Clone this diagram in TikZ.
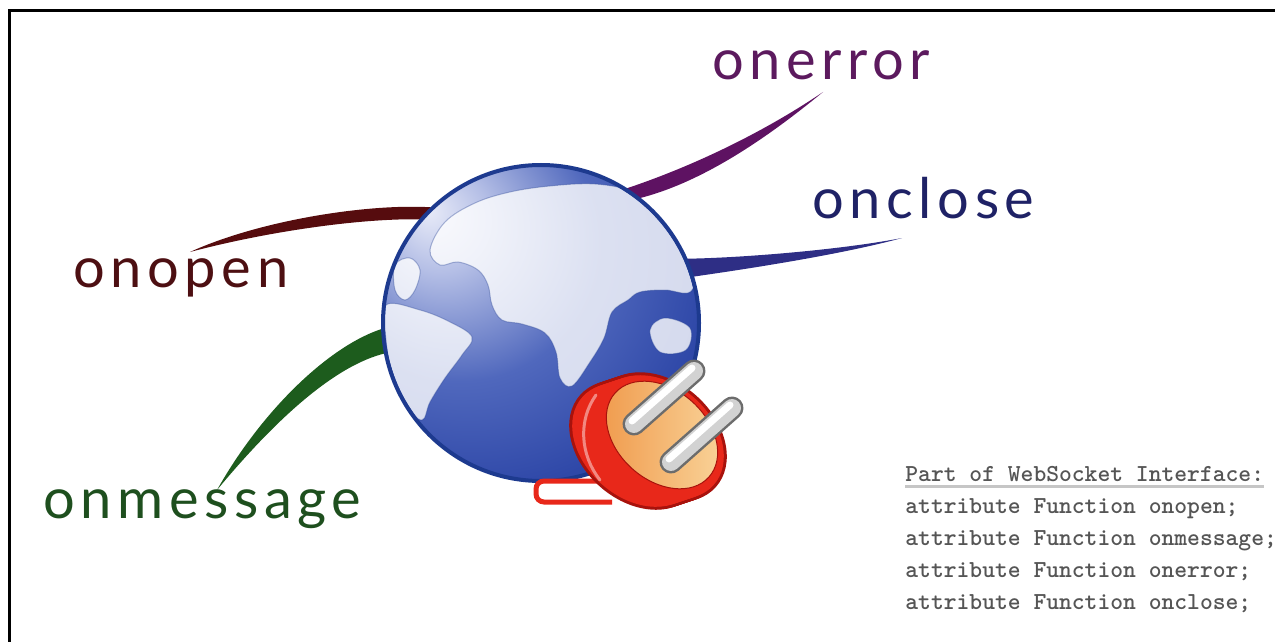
\documentclass[tikz,border=0pt]{standalone}
\usepackage{fontspec}
\usepackage{xcolor}
\usetikzlibrary{calc}

\newfontfamily\evfont[LetterSpace=10]{Lato}

\definecolor{opencol}{HTML}{4D0F12}
\definecolor{msgcol}{HTML}{1E4F1E}
\definecolor{errcol}{HTML}{5C1A5E}
\definecolor{closecol}{HTML}{1F2266}
\definecolor{openline}{HTML}{560C0E}
\definecolor{msgline}{HTML}{1D5C1D}
\definecolor{errline}{HTML}{5E1262}
\definecolor{closeline}{HTML}{2E2E85}
\definecolor{globehi}{HTML}{E8EBF8}
\definecolor{globelite}{HTML}{B5BFE6}
\definecolor{globemid}{HTML}{5068BD}
\definecolor{globedeep}{HTML}{2F48A8}
\definecolor{globedark}{HTML}{22389A}
\definecolor{globeline}{HTML}{1D3A8F}
\definecolor{plugred}{HTML}{E8281A}
\definecolor{plugedge}{HTML}{A8120C}
\definecolor{faceorange}{HTML}{F09A4C}
\definecolor{facepeach}{HTML}{F9D49A}
\definecolor{codegray}{HTML}{555555}

\pgfdeclareradialshading{globeshade}{\pgfpoint{-18bp}{18bp}}{%
  color(0bp)=(globehi); color(8bp)=(globelite); color(22bp)=(globemid);
  color(36bp)=(globedeep); color(76bp)=(globedark)}

\tikzset{
  evlabel/.style={font=\evfont\fontsize{28}{32}\selectfont, inner sep=0pt, anchor=base west},
  code/.style={font=\ttfamily\bfseries\fontsize{12.2}{16}\selectfont, text=codegray, inner sep=0pt, anchor=base west},
  land/.style={fill=white, fill opacity=0.8, draw=globeline, draw opacity=0.35, line width=0.5pt},
  prongout/.style={line width=11.5pt, line cap=round, draw=gray!85!black},
  prongin/.style={line width=9pt, line cap=round, draw=gray!35},
  pronghi/.style={line width=3.5pt, line cap=round, draw=white}
}

\begin{document}
\begin{tikzpicture}[x=0.5pt, y=-0.5pt]
\useasboundingbox (0,0) rectangle (1275,642);

% frame
\draw[line width=1.5pt] (9,642) -- (9,11) -- (1275,11);

% globe (placed first, drawn later)
\node[circle, minimum size=158pt, inner sep=0pt, outer sep=0pt] (globe) at (541,323) {};

% event labels
\node[evlabel, text=errcol] (onerror) at (712,80) {onerror};
\node[evlabel, text=closecol] (onclose) at (812,219) {onclose};
\node[evlabel, text=opencol] (onopen) at (73,287) {onopen};
\node[evlabel, text=msgcol] (onmessage) at (43,518) {onmessage};

% swoosh tips
\coordinate (errtip) at (823,92);
\coordinate (closetip) at (902,238);
\coordinate (opentip) at (190,252);
\coordinate (msgtip) at (217,490);

% swooshes
\fill[errline] (globe.58) .. controls (700,164) and (770,128) .. (errtip)
  .. controls (772,134) and (705,182) .. (globe.52) -- cycle;
\fill[closeline] (globe.24) .. controls (740,258) and (840,250) .. (closetip)
  .. controls (840,255) and (740,270) .. (globe.17) -- cycle;
\fill[openline] (globe.133) .. controls (370,203) and (260,220) .. (opentip)
  .. controls (265,232) and (360,218) .. (globe.139) -- cycle;
\fill[msgline] (globe.182) .. controls (330,345) and (262,410) .. (msgtip)
  .. controls (275,420) and (335,365) .. (globe.191) -- cycle;

% globe ball
\shade[shading=globeshade] (globe.center) circle[radius=158];
\begin{scope}
\clip (globe.center) circle[radius=156];
% europe, asia and africa
\filldraw[land] plot[smooth cycle, tension=0.6] coordinates {
  (430,250) (445,222) (475,203) (510,192) (550,186) (595,184) (635,192)
  (668,212) (690,240) (697,268) (690,292) (665,290) (640,292) (628,300)
  (612,312) (604,338) (590,362) (572,386) (560,378) (556,352) (545,333)
  (522,324) (502,320) (492,305) (488,285) (478,270) (458,262) (440,265)};
% south america
\filldraw[land] plot[smooth cycle, tension=0.6] coordinates {
  (386,305) (420,310) (450,322) (472,337) (462,355) (445,378) (430,402)
  (422,420) (405,405) (392,375) (386,340)};
% north america
\filldraw[land] plot[smooth cycle, tension=0.6] coordinates {
  (395,265) (410,258) (420,270) (415,290) (405,300) (395,290)};
% islands
\filldraw[land] plot[smooth cycle, tension=0.6] coordinates {
  (650,330) (665,318) (690,328) (686,350) (660,352)};
\end{scope}
\draw[globeline, line width=2pt] (globe.center) circle[radius=158];

% plug
\coordinate (plug) at (660,437);
\draw[plugred, line width=2.5pt, rounded corners=4pt] (605,481) -- (536,481) -- (536,502) -- (612,502);
\foreach \k in {0,...,12}{
  \begin{scope}[shift={($(plug)+(-2*\k,0.67*\k)$)}, rotate=-42]
    \fill[plugedge] (0,0) ellipse [x radius=75, y radius=55];
  \end{scope}}
\foreach \k in {0,...,12}{
  \begin{scope}[shift={($(plug)+(-2*\k,0.67*\k)$)}, rotate=-42]
    \fill[plugred] (0,0) ellipse [x radius=72, y radius=52];
  \end{scope}}
% shine on the rim
\draw[white, opacity=0.45, line width=1.5pt, line cap=round]
  (596,395) .. controls (578,420) and (580,455) .. (600,480);
\begin{scope}[shift={($(plug)+(2,-2)$)}, rotate=-42]
  \shade[left color=faceorange, right color=facepeach, draw=plugedge, line width=0.5pt]
    (0,0) ellipse [x radius=63, y radius=45];
\end{scope}

% prongs
\coordinate (pa1) at (634,424);
\coordinate (pa2) at (694,371);
\coordinate (pb1) at (671,462);
\coordinate (pb2) at (732,408);
\draw[prongout] (pa1) -- (pa2);
\draw[prongin] (pa1) -- (pa2);
\draw[pronghi] ([shift={(-2,-3)}]pa1) -- ([shift={(-2,-3)}]pa2);
\draw[prongout] (pb1) -- (pb2);
\draw[prongin] (pb1) -- (pb2);
\draw[pronghi] ([shift={(-2,-3)}]pb1) -- ([shift={(-2,-3)}]pb2);

% interface excerpt
\node[code] (ifacehead) at (905,481) {Part of WebSocket Interface:};
\draw[gray!45, line width=1.5pt] ([yshift=-2.5pt]ifacehead.base west) -- ([yshift=-2.5pt]ifacehead.base east);
\foreach \fn [count=\i] in {onopen,onmessage,onerror,onclose}
  \node[code] (attr\i) at (905,481+32*\i) {attribute Function \fn;};
\end{tikzpicture}
\end{document}
